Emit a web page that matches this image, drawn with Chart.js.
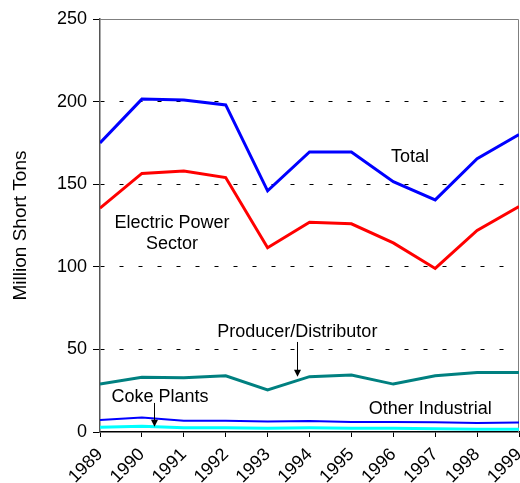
<!DOCTYPE html>
<html>
<head>
<meta charset="utf-8">
<script src="https://cdn.jsdelivr.net/npm/chart.js@4"></script>
<style>
  html, body { margin: 0; padding: 0; background: #fff; }
  #wrap { width: 520px; height: 483px; }
</style>
</head>
<body>
<div id="wrap"><canvas id="chart"></canvas></div>
<script>
// --- Data (million short tons) ---
const years = [1989, 1990, 1991, 1992, 1993, 1994, 1995, 1996, 1997, 1998, 1999];
const totalVals = [175, 201.5, 201, 198, 146, 169.5, 169.5, 151.5, 140.5, 165.5, 180];
const electricVals = [135.5, 156.5, 158, 154, 111.5, 127, 126, 114.5, 99, 122, 136.5];
const producerVals = [29, 33.2, 32.9, 34, 25.5, 33.5, 34.5, 29, 34, 36, 36];
const otherVals = [7.3, 8.8, 6.8, 6.8, 6.4, 6.6, 6.0, 6.0, 5.9, 5.4, 5.7];
const cokeVals = [2.9, 3.5, 2.5, 2.5, 2.3, 2.5, 2.3, 2.2, 1.9, 1.7, 1.7];
const yTicks = [0, 50, 100, 150, 200, 250];

const FONT = 'Arial, "Liberation Sans", sans-serif';

const toPoints = vals => vals.map((v, i) => ({ x: years[i], y: v }));

// --- Text labels and arrows, placed in data space ---
const labels = [
  { text: 'Total', x: 1996.4, y: 166.5 },
  { text: 'Electric Power', x: 1990.72, y: 126.5 },
  { text: 'Sector', x: 1990.72, y: 113.8 },
  { text: 'Producer/Distributor', x: 1993.71, y: 60.5 },
  { text: 'Coke Plants', x: 1990.43, y: 21.2 },
  { text: 'Other Industrial', x: 1996.88, y: 13.9 },
];
const arrows = [
  { x: 1993.7, from: 54.5, to: 33.5 },
  { x: 1990.29, from: 17.6, to: 3.2 },
];

const annotate = {
  id: 'annotate',
  beforeDatasetsDraw(chart) {
    const { ctx, chartArea: a } = chart;
    ctx.save();
    ctx.strokeStyle = '#7f7f7f';
    ctx.lineWidth = 1;
    ctx.beginPath();
    ctx.moveTo(a.left, a.top + 0.5);
    ctx.lineTo(a.right - 0.5, a.top + 0.5);
    ctx.lineTo(a.right - 0.5, a.bottom);
    ctx.stroke();
    ctx.restore();
  },
  afterDatasetsDraw(chart) {
    const { ctx } = chart;
    const xs = chart.scales.x, ys = chart.scales.y;
    ctx.save();
    ctx.fillStyle = '#000';
    ctx.font = `18px ${FONT}`;
    ctx.textAlign = 'center';
    ctx.textBaseline = 'middle';
    labels.forEach(l => {
      ctx.fillText(l.text, xs.getPixelForValue(l.x), ys.getPixelForValue(l.y));
    });
    ctx.strokeStyle = '#000';
    ctx.lineWidth = 1;
    arrows.forEach(ar => {
      const x = Math.round(xs.getPixelForValue(ar.x)) + 0.5;
      const y1 = ys.getPixelForValue(ar.from);
      const y2 = ys.getPixelForValue(ar.to);
      ctx.beginPath();
      ctx.moveTo(x, y1);
      ctx.lineTo(x, y2 - 5);
      ctx.stroke();
      ctx.beginPath();
      ctx.moveTo(x - 3.5, y2 - 7);
      ctx.lineTo(x + 3.5, y2 - 7);
      ctx.lineTo(x, y2);
      ctx.closePath();
      ctx.fill();
    });
    ctx.restore();
  }
};

const series = (label, vals, color, width) => ({
  label,
  data: toPoints(vals),
  borderColor: color,
  backgroundColor: color,
  borderWidth: width,
  pointRadius: 0,
  tension: 0,
  fill: false,
});

new Chart(document.getElementById('chart'), {
  type: 'line',
  data: {
    datasets: [
      series('Coke Plants', cokeVals, '#00ffff', 3),
      series('Other Industrial', otherVals, '#0000ff', 2),
      series('Producer/Distributor', producerVals, '#008080', 3),
      series('Electric Power Sector', electricVals, '#ff0000', 3),
      series('Total', totalVals, '#0000ff', 3),
    ],
  },
  options: {
    responsive: true,
    maintainAspectRatio: false,
    animation: false,
    layout: { padding: { top: 19, right: 1, left: 0, bottom: 0 } },
    plugins: {
      legend: { display: false },
      tooltip: { enabled: false },
    },
    scales: {
      x: {
        type: 'linear',
        min: years[0],
        max: years[years.length - 1],
        afterBuildTicks: s => { s.ticks = years.map(v => ({ value: v })); },
        afterFit: s => { s.height = 51; s.paddingLeft = 0; s.paddingRight = 0; },
        ticks: {
          color: '#000',
          font: { family: FONT, size: 18 },
          maxRotation: 45,
          minRotation: 45,
          padding: 7,
          callback: v => String(v),
        },
        grid: { display: true, drawOnChartArea: false, tickLength: 5, color: '#000' },
        border: { color: '#000', width: 1.5 },
      },
      y: {
        min: 0,
        max: 250,
        afterBuildTicks: s => { s.ticks = yTicks.map(v => ({ value: v })); },
        afterFit: s => { s.width = 100; s.paddingTop = 0; s.paddingBottom = 0; },
        ticks: {
          color: '#000',
          font: { family: FONT, size: 18 },
          padding: 6,
        },
        grid: {
          color: ctx => (ctx.tick && (ctx.tick.value === 0 || ctx.tick.value === 250)) ? 'rgba(0,0,0,0)' : '#000',
          tickColor: '#000',
          tickLength: 7,
          tickBorderDash: [],
          lineWidth: 1,
        },
        border: { color: '#555', width: 1.5, dash: [4, 15] },
        title: {
          display: true,
          text: 'Million Short Tons',
          color: '#000',
          font: { family: FONT, size: 19 },
          padding: { top: 9, bottom: 0 },
        },
      },
    },
  },
  plugins: [annotate],
});
</script>
</body>
</html>
